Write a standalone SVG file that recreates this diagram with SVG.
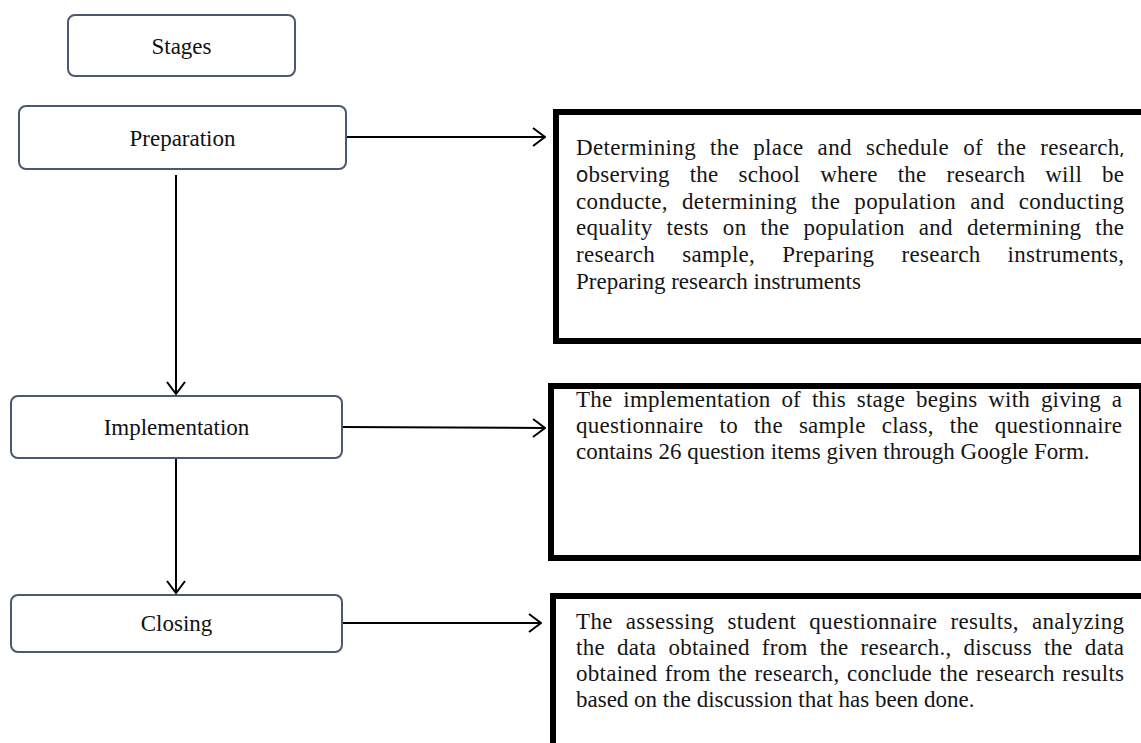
<svg xmlns="http://www.w3.org/2000/svg" width="1141" height="743" viewBox="0 0 1141 743">
<style>
.node{fill:#fff;stroke:#4a5870;stroke-width:2}
.lbl{font-family:"Liberation Serif","Times New Roman",serif;font-size:23px;fill:#111;text-anchor:middle;dominant-baseline:central}
.conn{stroke:#000;stroke-width:2;fill:none}
.tbox{fill:#fff;stroke:#000;stroke-width:6}
.body{font-family:"Liberation Serif","Times New Roman",serif;font-size:23px;fill:#151515}
.sans{font-family:"Open Sans","Liberation Sans",sans-serif;font-weight:600}
</style>
<defs>
<marker id="arr" viewBox="0 0 14 20" refX="13" refY="10" markerWidth="14" markerHeight="20" markerUnits="userSpaceOnUse" orient="auto">
<path d="M1,1 L13,10 L1,19" fill="none" stroke="#000" stroke-width="2"/>
</marker>
</defs>
<rect width="1141" height="743" fill="#fff"/>

<g id="connectors">
<line class="conn" x1="346" y1="137" x2="545" y2="137" marker-end="url(#arr)"/>
<line class="conn" x1="176" y1="175" x2="176" y2="394" marker-end="url(#arr)"/>
<line class="conn" x1="342" y1="427" x2="545" y2="428" marker-end="url(#arr)"/>
<line class="conn" x1="176" y1="458" x2="176" y2="593" marker-end="url(#arr)"/>
<line class="conn" x1="342" y1="623" x2="541" y2="623" marker-end="url(#arr)"/>
</g>

<g id="stages">
<rect class="node" x="68" y="15" width="227" height="61" rx="7"/>
<text class="lbl" x="181.5" y="46">Stages</text>
</g>
<g id="preparation">
<rect class="node" x="19" y="106" width="327" height="63" rx="7"/>
<text class="lbl" x="182.5" y="138">Preparation</text>
</g>
<g id="implementation">
<rect class="node" x="11" y="396" width="331" height="62" rx="7"/>
<text class="lbl" x="176.5" y="427">Implementation</text>
</g>
<g id="closing">
<rect class="node" x="11" y="595" width="331" height="57" rx="7"/>
<text class="lbl" x="176.5" y="623">Closing</text>
</g>

<g id="preparation-detail">
<rect class="tbox" x="556" y="112" width="700" height="229"/>
<text class="body" x="576" y="155" word-spacing="8" textLength="548" lengthAdjust="spacing">Determining the place and schedule of the research<tspan class="sans" font-size="16">,</tspan></text>
<text class="body" x="576" y="182" word-spacing="14" textLength="548" lengthAdjust="spacing"><tspan class="sans" font-size="15.5">O</tspan>bserving the school where the research will be</text>
<text class="body" x="576" y="209" word-spacing="8" textLength="548" lengthAdjust="spacing">conducte, determining the population and conducting</text>
<text class="body" x="576" y="235" word-spacing="8" textLength="548" lengthAdjust="spacing">equality tests on the population and determining the</text>
<text class="body" x="576" y="262" word-spacing="21" textLength="548" lengthAdjust="spacing">research sample, Preparing research instruments,</text>
<text class="body" x="576" y="289">Preparing research instruments</text>
</g>

<g id="implementation-detail">
<rect class="tbox" x="551" y="386" width="591" height="172"/>
<text class="body" x="576" y="407" word-spacing="5" textLength="546" lengthAdjust="spacing">The implementation of this stage begins with giving a</text>
<text class="body" x="576" y="433" word-spacing="10" textLength="546" lengthAdjust="spacing">questionnaire to the sample class, the questionnaire</text>
<text class="body" x="576" y="459">contains 26 question items given through Google Form.</text>
</g>

<g id="closing-detail">
<rect class="tbox" x="553" y="596" width="700" height="300"/>
<text class="body" x="576" y="629" word-spacing="7" textLength="548" lengthAdjust="spacing">The assessing student questionnaire results, analyzing</text>
<text class="body" x="576" y="655" word-spacing="6" textLength="548" lengthAdjust="spacing">the data obtained from the research., discuss the data</text>
<text class="body" x="576" y="681" word-spacing="1.5" textLength="548" lengthAdjust="spacing">obtained from the research, conclude the research results</text>
<text class="body" x="576" y="707">based on the discussion that has been done.</text>
</g>
</svg>
